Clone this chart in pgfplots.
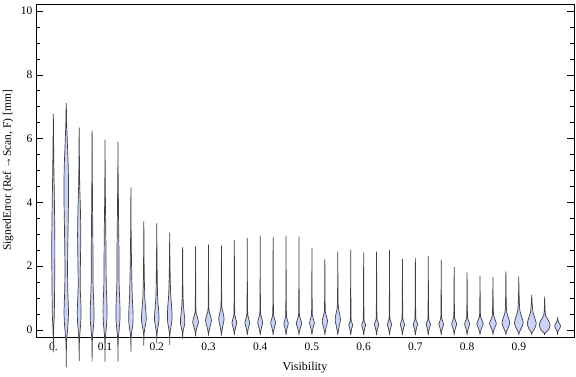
\documentclass[border=0pt]{standalone}
\usepackage{fontspec}
\setmainfont{Liberation Serif}
\usepackage{pgfplots}
\pgfplotsset{compat=1.18}
\definecolor{vfill}{rgb}{0.798,0.825,0.968}
\definecolor{vedge}{rgb}{0.25,0.25,0.28}
\pgfplotsset{vstyle/.style={fill=vfill, draw=vedge, line width=0.7pt, smooth, tension=0.45, line join=round}}
% #1 centre x, #2 ymin, #3 ymax, #4 right-hand profile w/y (w in px), bottom to top
\newcommand\violin[4]{%
  \gdef\vR{}\gdef\vL{}%
  \foreach \w/\y in {#4}{\xdef\vR{\vR(\w,\y)}\xdef\vL{(-\w,\y)\vL}}%
  \edef\vtmp{\noexpand\addplot[vstyle,x filter/.expression={#1+0.001934*x}] coordinates {(0,#2)\vR(0,#3)\vL(0,#2)};}%
  \vtmp}
\begin{document}
\begin{tikzpicture}
\begin{axis}[
 scale only axis, width=538pt, height=333pt,
 xmin=-0.0335, xmax=1.0067, ymin=-0.22, ymax=10.22,
 clip=false,
 axis line style={line width=0.7pt},
 tick align=inside,
 tick style={black, line width=0.6pt},
 major tick length=7pt, minor tick length=4pt,
 xtick=\empty,
 minor xtick={0,0.025,0.05,0.075,0.1,0.125,0.15,0.175,0.2,0.225,0.25,0.275,0.3,0.325,0.35,0.375,0.4,0.425,0.45,0.475,0.5,0.525,0.55,0.575,0.6,0.625,0.65,0.675,0.7,0.725,0.75,0.775,0.8,0.825,0.85,0.875,0.9,0.925,0.95,0.975},
 extra x ticks={0,0.1,0.2,0.3,0.4,0.5,0.6,0.7,0.8,0.9},
 extra x tick labels={0.,0.1,0.2,0.3,0.4,0.5,0.6,0.7,0.8,0.9},
 extra x tick style={major tick length=0pt},
 ytick={0,2,4,6,8,10}, yticklabels={0,2,4,6,8,10},
 minor y tick num=3,
 tick label style={font=\fontsize{11.5}{13}\selectfont},
 xticklabel style={yshift=-2pt},
 label style={font=\fontsize{11.5}{13}\selectfont},
 xlabel={Visibility}, ylabel={SignedError (Ref →Scan, F) [mm]},
 xlabel style={at={(axis description cs:0.5,-0.091)}, anchor=center, font=\fontsize{12}{14}\selectfont},
 ylabel style={at={(axis description cs:-0.052,0.5)}, anchor=center},
]
\coordinate (SW) at (rel axis cs:0,0);
\coordinate (NE) at (rel axis cs:1,1);
\violin{0}{-0.7}{6.77}{0.3/0, 0.9/0.4, 1.2/1.0, 1.5/2.0, 1.5/3.0, 1.1/4.0, 0.6/5.0, 0.25/6.0}
\violin{0.025}{-1.17}{7.11}{0.3/-0.4, 1.8/0.2, 2.2/0.6, 1.5/1.3, 1.3/2.0, 1.7/3.0, 2.2/4.0, 2.1/5.0, 1.2/5.8, 0.4/6.5}
\violin{0.05}{-0.97}{6.34}{0.3/-0.3, 1.7/0.3, 1.8/0.7, 1.0/1.4, 1.3/2.2, 1.6/3.0, 1.2/3.8, 0.5/4.6, 0.2/5.5}
\violin{0.075}{-0.99}{6.25}{0.3/-0.3, 1.8/0.3, 1.8/0.7, 1.0/1.4, 0.9/2.2, 0.7/3.0, 0.4/4.0, 0.2/5.0}
\violin{0.1}{-0.99}{5.96}{0.3/-0.3, 1.8/0.3, 1.9/0.8, 1.2/1.4, 1.0/2.2, 0.8/3.0, 0.4/4.0, 0.15/5.0}
\violin{0.125}{-0.99}{5.9}{0.3/-0.3, 1.9/0.3, 1.9/0.8, 1.1/1.5, 1.0/2.4, 0.7/3.2, 0.4/4.2, 0.15/5.0}
\violin{0.15}{-0.68}{4.46}{0.3/-0.2, 2.0/0.2, 2.2/0.5, 1.3/1.1, 0.8/1.8, 0.4/2.6, 0.15/3.5}
\violin{0.175}{-0.49}{3.4}{0.3/-0.1, 2.3/0.3, 2.0/0.6, 1.0/1.0, 0.5/1.6, 0.2/2.4}
\violin{0.2}{-0.42}{3.34}{0.3/-0.1, 2.2/0.3, 1.9/0.6, 0.9/1.0, 0.5/1.6, 0.2/2.4}
\violin{0.225}{-0.47}{3.05}{0.3/-0.1, 2.2/0.3, 2.0/0.7, 1.0/1.1, 0.5/1.7, 0.2/2.3}
\violin{0.25}{-0.29}{2.59}{0.4/-0.05, 2.2/0.22, 1.6/0.5, 0.7/0.8, 0.3/1.3, 0.15/2.0}
\violin{0.275}{-0.2}{2.61}{0.35/-0.06, 1.6/0.1, 2.9/0.25, 1.6/0.42, 0.45/0.57, 0.22/1.07, 0.1/1.7}
\violin{0.3}{-0.18}{2.67}{0.35/-0.06, 1.7/0.12, 3.0/0.3, 1.7/0.48, 0.45/0.63, 0.22/1.13, 0.1/1.8}
\violin{0.325}{-0.18}{2.64}{0.35/-0.06, 1.5/0.14, 2.7/0.35, 1.5/0.56, 0.45/0.73, 0.22/1.23, 0.1/1.9}
\violin{0.35}{-0.16}{2.82}{0.35/-0.06, 1.3/0.09, 2.4/0.22, 1.3/0.36, 0.45/0.47, 0.22/0.97, 0.1/1.67}
\violin{0.375}{-0.16}{2.88}{0.35/-0.06, 1.3/0.09, 2.4/0.22, 1.3/0.36, 0.45/0.47, 0.22/0.97, 0.1/1.67}
\violin{0.4}{-0.16}{2.95}{0.35/-0.06, 1.4/0.09, 2.5/0.23, 1.4/0.38, 0.45/0.5, 0.22/1.0, 0.1/1.7}
\violin{0.425}{-0.16}{2.92}{0.35/-0.06, 1.3/0.09, 2.4/0.22, 1.3/0.36, 0.45/0.47, 0.22/0.97, 0.1/1.67}
\violin{0.45}{-0.16}{2.95}{0.35/-0.06, 1.2/0.08, 2.2/0.2, 1.2/0.32, 0.45/0.42, 0.22/0.92, 0.1/1.62}
\violin{0.475}{-0.16}{2.92}{0.35/-0.06, 1.5/0.08, 2.7/0.2, 1.5/0.34, 0.45/0.45, 0.22/0.95, 0.1/1.65}
\violin{0.5}{-0.16}{2.57}{0.35/-0.06, 1.3/0.09, 2.4/0.22, 1.3/0.36, 0.45/0.47, 0.22/0.97, 0.1/1.67}
\violin{0.525}{-0.16}{2.22}{0.35/-0.06, 1.5/0.11, 2.7/0.28, 1.5/0.44, 0.45/0.57, 0.22/1.07, 0.1/1.6}
\violin{0.55}{-0.16}{2.45}{0.35/-0.06, 1.5/0.13, 2.7/0.33, 1.5/0.55, 0.45/0.73, 0.22/1.2, 0.1/1.8}
\violin{0.575}{-0.16}{2.51}{0.35/-0.06, 1.1/0.06, 2.0/0.15, 1.1/0.24, 0.45/0.31, 0.22/0.81, 0.1/1.5}
\violin{0.6}{-0.16}{2.42}{0.35/-0.06, 1.1/0.06, 2.0/0.15, 1.1/0.24, 0.45/0.31, 0.22/0.81, 0.1/1.5}
\violin{0.625}{-0.16}{2.45}{0.35/-0.06, 1.2/0.07, 2.2/0.17, 1.2/0.27, 0.45/0.35, 0.22/0.85, 0.1/1.5}
\violin{0.65}{-0.16}{2.49}{0.35/-0.06, 1.2/0.07, 2.2/0.17, 1.2/0.27, 0.45/0.35, 0.22/0.85, 0.1/1.5}
\violin{0.675}{-0.16}{2.22}{0.35/-0.06, 1.2/0.07, 2.2/0.17, 1.2/0.27, 0.45/0.35, 0.22/0.85, 0.1/1.5}
\violin{0.7}{-0.16}{2.25}{0.35/-0.06, 1.2/0.07, 2.2/0.17, 1.2/0.27, 0.45/0.35, 0.22/0.85, 0.1/1.5}
\violin{0.725}{-0.16}{2.32}{0.35/-0.06, 1.2/0.07, 2.2/0.17, 1.2/0.27, 0.45/0.35, 0.22/0.85, 0.1/1.5}
\violin{0.75}{-0.16}{2.19}{0.35/-0.06, 1.3/0.07, 2.4/0.18, 1.3/0.28, 0.45/0.37, 0.22/0.87, 0.1/1.5}
\violin{0.775}{-0.16}{1.97}{0.35/-0.06, 1.4/0.07, 2.5/0.18, 1.4/0.29, 0.45/0.38, 0.22/0.88, 0.1/1.45}
\violin{0.8}{-0.16}{1.80}{0.35/-0.06, 1.4/0.07, 2.5/0.18, 1.4/0.29, 0.45/0.38, 0.22/0.88, 0.1/1.35}
\violin{0.825}{-0.16}{1.69}{0.35/-0.06, 1.8/0.08, 3.2/0.2, 1.8/0.32, 0.5/0.42, 0.22/0.9, 0.1/1.3}
\violin{0.85}{-0.16}{1.65}{0.35/-0.06, 1.9/0.08, 3.4/0.2, 1.9/0.34, 0.6/0.47, 0.25/0.9, 0.1/1.3}
\violin{0.875}{-0.16}{1.83}{0.35/-0.07, 2.2/0.06, 3.9/0.22, 2.4/0.4, 0.9/0.55, 0.4/0.8, 0.15/1.3}
\violin{0.9}{-0.16}{1.67}{0.35/-0.08, 2.5/0.05, 4.4/0.22, 2.8/0.42, 1.1/0.6, 0.5/0.9, 0.15/1.3}
\violin{0.925}{-0.16}{1.10}{0.35/-0.08, 2.8/0.04, 4.5/0.2, 3.0/0.38, 1.3/0.55, 0.5/0.8, 0.2/0.95}
\violin{0.95}{-0.16}{1.04}{0.35/-0.1, 3.2/-0.02, 5.5/0.15, 3.5/0.32, 1.0/0.45, 0.3/0.7}
\violin{0.975}{-0.15}{0.39}{0.3/-0.06, 1.6/0.03, 3.0/0.12, 1.6/0.21, 0.4/0.29}
\end{axis}
\pgfresetboundingbox
\path[use as bounding box] ([xshift=-36pt,yshift=-40pt]SW) rectangle ([xshift=2pt,yshift=4pt]NE);
\end{tikzpicture}
\end{document}
